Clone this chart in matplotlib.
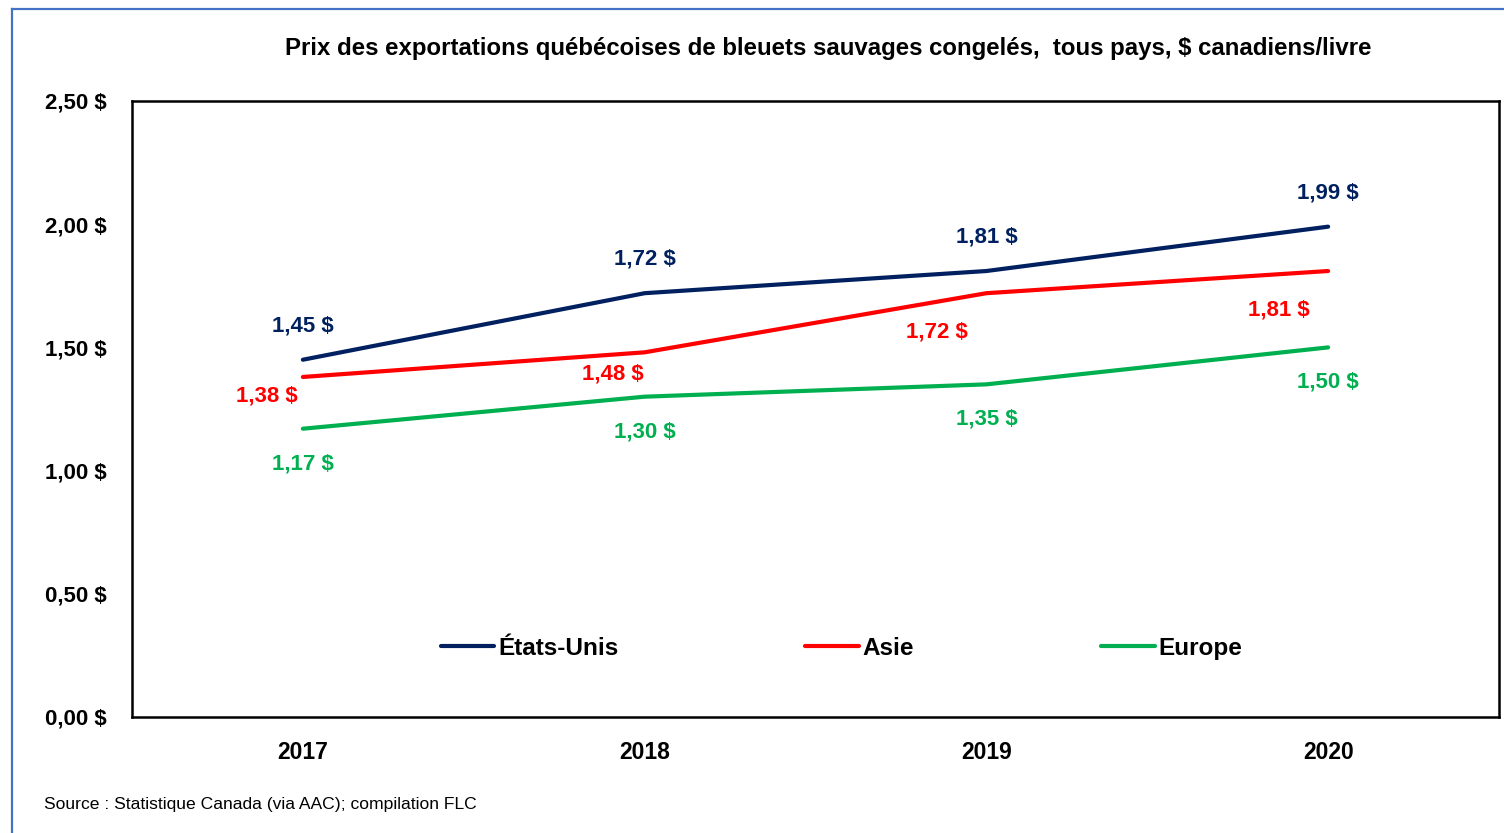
import matplotlib
matplotlib.use("Agg")
import matplotlib.pyplot as plt
from matplotlib.lines import Line2D

plt.rcParams['font.family'] = ['Liberation Sans Narrow', 'Liberation Sans', 'DejaVu Sans']

# === DATA ===
years = ['2017', '2018', '2019', '2020']
etats_unis = [1.45, 1.72, 1.81, 1.99]
asie = [1.38, 1.48, 1.72, 1.81]
europe = [1.17, 1.30, 1.35, 1.50]
y_ticks = [0.0, 0.5, 1.0, 1.5, 2.0, 2.5]

title = "Prix des exportations québécoises de bleuets sauvages congelés,  tous pays, $ canadiens/livre"
source = "Source : Statistique Canada (via AAC); compilation FLC"

def fmt(v):
    return f"{v:.2f} $".replace('.', ',')

# label offsets in pixels (dx, dy)
series = [
    ("États-Unis", etats_unis, "#002060", [(0, 34)] * 4),
    ("Asie", asie, "#FF0000", [(-36, -19), (-32, -22), (-49, -39), (-49, -39)]),
    ("Europe", europe, "#00B050", [(0, -35)] * 4),
]

fig = plt.figure(figsize=(15.04, 8.33), dpi=100)
ax = fig.add_axes([132 / 1504, 1 - 717 / 833, 1367 / 1504, 616 / 833])

x = [i + 0.5 for i in range(len(years))]
px = 72 / 100
for name, vals, color, offs in series:
    ax.plot(x, vals, color=color, lw=3, label=name, solid_capstyle='round')
    for xi, v, (dx, dy) in zip(x, vals, offs):
        ax.annotate(fmt(v), (xi, v), xytext=(dx * px, dy * px), textcoords='offset points',
                    ha='center', va='center', color=color, fontsize=16, fontweight='bold')

ax.set_xlim(0, 4)
ax.set_ylim(0, 2.5)
ax.set_xticks(x)
ax.set_xticklabels(years, fontsize=16.5, fontweight='bold')
ax.set_yticks(y_ticks)
ax.set_yticklabels([fmt(v) for v in y_ticks], fontsize=16, fontweight='bold')
ax.tick_params(length=0, pad=18)
ax.tick_params(axis='x', pad=17)
for s in ax.spines.values():
    s.set_linewidth(1.8)

leg = ax.legend(loc='center', bbox_to_anchor=(0.519, 0.112), ncol=3, frameon=False,
                prop={'size': 17.5, 'weight': 'bold'}, handlelength=2.2, handletextpad=0.15,
                columnspacing=7.7)

fig.text(828 / 1504, 1 - 48 / 833, title, ha='center', va='center', fontsize=17.3, fontweight='bold')
fig.text(44 / 1504, 1 - 804 / 833, source, ha='left', va='center', fontsize=12.6)

# blue frame on left and top
fig.add_artist(Line2D([12 / 1504, 12 / 1504], [0, 1 - 9 / 833], color='#4472C4', lw=1.6,
                      transform=fig.transFigure))
fig.add_artist(Line2D([12 / 1504, 1], [1 - 9 / 833, 1 - 9 / 833], color='#4472C4', lw=1.6,
                      transform=fig.transFigure))

fig.savefig("out.png", dpi=100)
